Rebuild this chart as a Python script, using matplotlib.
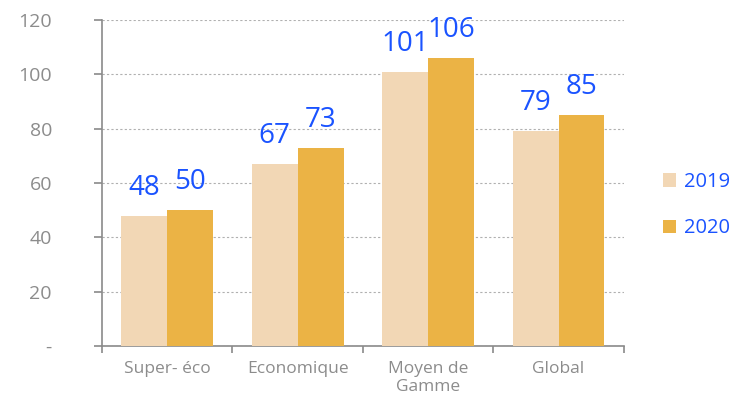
import matplotlib
matplotlib.use("Agg")
import matplotlib.pyplot as plt
import numpy as np
from matplotlib.patches import Patch

categories = ["Super- éco", "Economique", "Moyen de\nGamme", "Global"]
series_names = ["2019", "2020"]
values_2019 = [48, 67, 101, 79]
values_2020 = [50, 73, 106, 85]
yticks = [0, 20, 40, 60, 80, 100, 120]
ytick_labels = ["-", "20", "40", "60", "80", "100", "120"]

c2019 = "#F2D7B5"
c2020 = "#EBB345"
blue = "#1A53FF"
grey = "#8C8C8C"
spine_c = "#8A8A8A"

plt.rcParams['font.family'] = ['Open Sans', 'DejaVu Sans']

fig = plt.figure(figsize=(7.33, 4.01), dpi=100)
ax = fig.add_axes([0.139, 0.137, 0.712, 0.813])

x = np.arange(len(categories))
w = 0.352
b1 = ax.bar(x - w/2, values_2019, w, color=c2019, zorder=3)
b2 = ax.bar(x + w/2, values_2020, w, color=c2020, zorder=3)

for bars, vals in ((b1, values_2019), (b2, values_2020)):
    for rect, v in zip(bars, vals):
        ax.annotate(f"{v}", (rect.get_x() + rect.get_width()/2, v),
                    xytext=(0, 14), textcoords="offset pixels",
                    ha="center", va="bottom", fontsize=20, color=blue)

ax.set_xlim(-0.5, len(categories) - 0.5)
ax.set_ylim(0, 120)
ax.set_yticks(yticks)
ax.set_yticklabels(ytick_labels)
ax.yaxis.grid(True, linestyle=(0, (2, 2)), color="#B0B0B0", linewidth=0.8, zorder=0)
ax.set_axisbelow(True)

ax.set_xticks(x)
ax.set_xticklabels(categories, linespacing=1.1)
ax.set_xticks(np.arange(len(categories) + 1) - 0.5, minor=True)
ax.tick_params(axis="x", which="major", length=0, pad=11, labelsize=12.5, labelcolor=grey)
ax.tick_params(axis="x", which="minor", length=5, width=1.2, color=spine_c, direction="out")
ax.tick_params(axis="y", length=6, width=1.2, color=spine_c, pad=30, labelsize=14, labelcolor=grey)

for s in ("top", "right"):
    ax.spines[s].set_visible(False)
for s in ("left", "bottom"):
    ax.spines[s].set_color(spine_c)
    ax.spines[s].set_linewidth(1.2)

handles = [Patch(facecolor=c2019), Patch(facecolor=c2020)]
leg = fig.legend(handles, series_names, loc="center left", bbox_to_anchor=(0.905, 0.488),
                 frameon=False, fontsize=14.5, handlelength=0.65, handleheight=0.65,
                 handletextpad=0.35, labelspacing=1.3, borderaxespad=0, borderpad=0)
for t in leg.get_texts():
    t.set_color(blue)

fig.savefig("out.png", dpi=100)
